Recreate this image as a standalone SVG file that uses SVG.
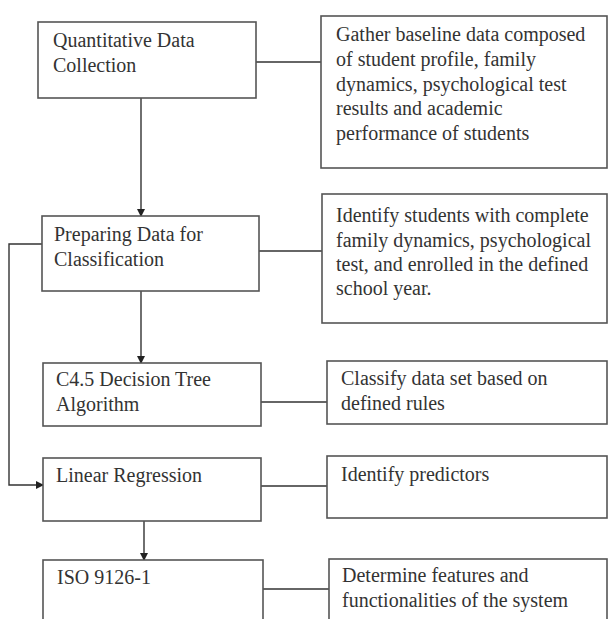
<svg xmlns="http://www.w3.org/2000/svg" width="609" height="619" viewBox="0 0 609 619">
<defs>
<style>
.box{fill:#fff;stroke:#555;stroke-width:1.6}
.t{font-family:"Liberation Serif","Times New Roman",serif;font-size:20px;fill:#333}
.ln{fill:none;stroke:#333;stroke-width:1.4}
.ar{fill:none;stroke:#333;stroke-width:1.4;marker-end:url(#ah)}
</style>
<marker id="ah" markerWidth="8" markerHeight="8" refX="7" refY="4" orient="auto" markerUnits="userSpaceOnUse">
<path d="M0,0 L8,4 L0,8 Z" fill="#222"/>
</marker>
</defs>
<rect width="609" height="619" fill="#fff"/>
<g id="connectors">
<line class="ln" x1="256" y1="62" x2="321" y2="62"/>
<line class="ar" x1="141" y1="98" x2="141" y2="216"/>
<line class="ln" x1="259" y1="251" x2="322" y2="251"/>
<line class="ar" x1="141" y1="291" x2="141" y2="363"/>
<polyline class="ar" points="42,244 9,244 9,485 43,485"/>
<line class="ln" x1="261" y1="402" x2="327" y2="402"/>
<line class="ln" x1="261" y1="486" x2="327" y2="486"/>
<line class="ar" x1="144" y1="521" x2="144" y2="560"/>
<line class="ln" x1="263" y1="589" x2="329" y2="589"/>
</g>
<g id="n1">
<rect class="box" x="38" y="22" width="218" height="76"/>
<text class="t" x="53" y="47">Quantitative Data</text>
<text class="t" x="53" y="72">Collection</text>
</g>
<g id="d1">
<rect class="box" x="321" y="16" width="286" height="152"/>
<text class="t" x="336" y="41">Gather baseline data composed</text>
<text class="t" x="336" y="66">of student profile, family</text>
<text class="t" x="336" y="91">dynamics, psychological test</text>
<text class="t" x="336" y="115">results and academic</text>
<text class="t" x="336" y="140">performance of students</text>
</g>
<g id="n2">
<rect class="box" x="42" y="216" width="217" height="75"/>
<text class="t" x="54" y="241">Preparing Data for</text>
<text class="t" x="54" y="266">Classification</text>
</g>
<g id="d2">
<rect class="box" x="322" y="194" width="285" height="129"/>
<text class="t" x="336" y="222">Identify students with complete</text>
<text class="t" x="336" y="247">family dynamics, psychological</text>
<text class="t" x="336" y="271">test, and enrolled in the defined</text>
<text class="t" x="336" y="295">school year.</text>
</g>
<g id="n3">
<rect class="box" x="43" y="363" width="218" height="63"/>
<text class="t" x="56" y="386">C4.5 Decision Tree</text>
<text class="t" x="56" y="411">Algorithm</text>
</g>
<g id="d3">
<rect class="box" x="327" y="361" width="280" height="63"/>
<text class="t" x="341" y="385">Classify data set based on</text>
<text class="t" x="341" y="410">defined rules</text>
</g>
<g id="n4">
<rect class="box" x="43" y="458" width="218" height="63"/>
<text class="t" x="56" y="482">Linear Regression</text>
</g>
<g id="d4">
<rect class="box" x="327" y="456" width="280" height="62"/>
<text class="t" x="341" y="481">Identify predictors</text>
</g>
<g id="n5">
<rect class="box" x="43" y="560" width="220" height="80"/>
<text class="t" x="57" y="584">ISO 9126-1</text>
</g>
<g id="d5">
<rect class="box" x="329" y="559" width="278" height="80"/>
<text class="t" x="342" y="582">Determine features and</text>
<text class="t" x="342" y="607">functionalities of the system</text>
</g>
</svg>
